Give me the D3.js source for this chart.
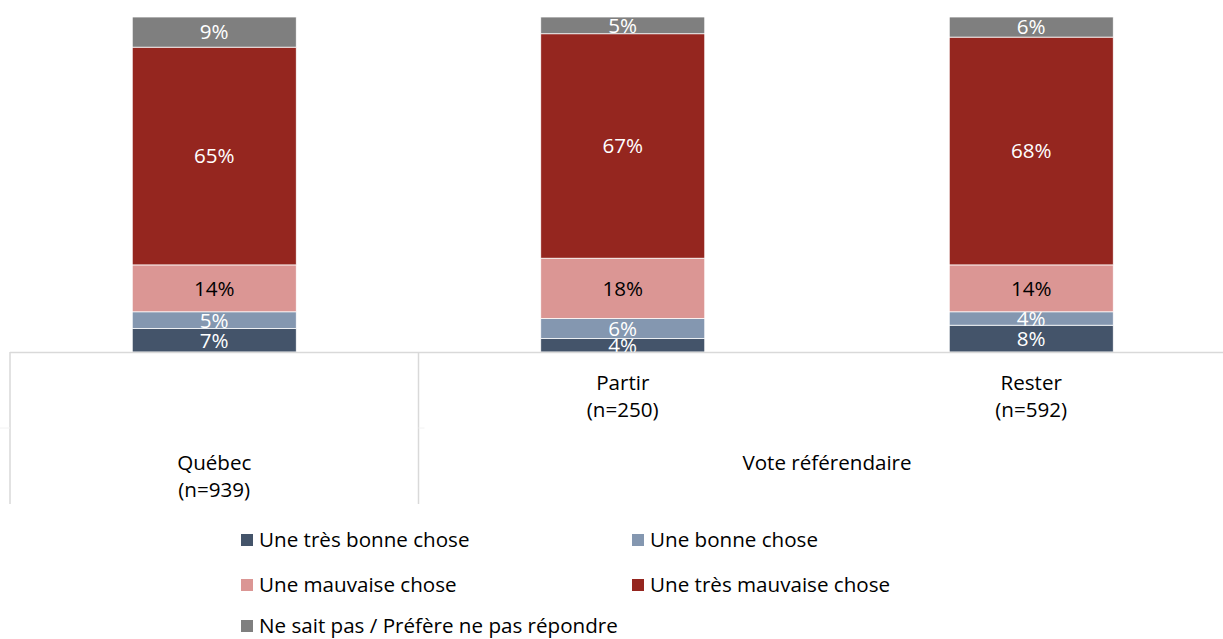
<!DOCTYPE html>
<html><head><meta charset="utf-8">
<script src="https://cdn.jsdelivr.net/npm/d3@7"></script>
<style>body{margin:0;background:#fff}svg{display:block}text{font-family:"Open Sans",Lato,sans-serif}</style>
</head><body><svg id="c" width="1223" height="639"></svg>
<script>
const categories = ["Québec", "Partir", "Rester"];
const categoryN = ["(n=939)", "(n=250)", "(n=592)"];
const groups = [{label: "", cats: ["Québec"]}, {label: "Vote référendaire", cats: ["Partir", "Rester"]}];
const seriesNames = ["Une très bonne chose", "Une bonne chose", "Une mauvaise chose", "Une très mauvaise chose", "Ne sait pas / Préfère ne pas répondre"];
const tresBonne = [7, 4, 8];
const bonne = [5, 6, 4];
const mauvaise = [14, 18, 14];
const tresMauvaise = [65, 67, 68];
const nsp = [9, 5, 6];
const colors = ["#44546A", "#8497B0", "#DB9694", "#95261F", "#7F7F7F"];
const labelColors = ["#fff", "#fff", "#000", "#fff", "#fff"];

const seriesVals = [tresBonne, bonne, mauvaise, tresMauvaise, nsp];
const data = categories.map((c, i) => {
  const o = {cat: c};
  seriesNames.forEach((s, k) => o[s] = seriesVals[k][i]);
  return o;
});
const stack = d3.stack().keys(seriesNames)(data);

const FS = 20.6;
const svg = d3.select("#c");
const x0 = 10, bandW = 408.5;
const x = d3.scaleBand().domain(categories).range([x0, x0 + bandW * 3]).paddingInner(0).paddingOuter(0);
const barW = 164;
const y = d3.scaleLinear().domain([0, 100]).range([352, 17]);

// bars
stack.forEach((layer, k) => {
  svg.append("g").selectAll("rect").data(layer).join("rect")
    .attr("x", d => x(d.data.cat) + x.bandwidth() / 2 - barW / 2)
    .attr("width", barW)
    .attr("y", d => y(d[1]))
    .attr("height", d => y(d[0]) - y(d[1]))
    .attr("fill", colors[k])
    .attr("stroke", "#fff").attr("stroke-width", 0.75);
});
stack.forEach((layer, k) => {
  svg.append("g").selectAll("text").data(layer).join("text")
    .attr("x", d => x(d.data.cat) + x.bandwidth() / 2)
    .attr("y", d => (y(d[0]) + y(d[1])) / 2)
    .attr("dy", "0.36em")
    .attr("text-anchor", "middle")
    .attr("font-size", FS)
    .attr("fill", labelColors[k])
    .text(d => (d[1] - d[0]) + "%");
});

// axis
const axisY = 352, axisBottom = 504;
svg.append("line").attr("x1", x0).attr("x2", 1223).attr("y1", axisY + 0.5).attr("y2", axisY + 0.5)
  .attr("stroke", "#D9D9D9").attr("stroke-width", 1.5);
// group separators
const seps = [x0, x(groups[1].cats[0])];
seps.forEach(sx => svg.append("line").attr("x1", sx).attr("x2", sx).attr("y1", axisY).attr("y2", axisBottom)
  .attr("stroke", "#D9D9D9").attr("stroke-width", 1.5));
// faint tick between levels
svg.append("line").attr("x1", 0).attr("x2", x0).attr("y1", 428).attr("y2", 428).attr("stroke", "#F2F2F2");
svg.append("line").attr("x1", seps[1]).attr("x2", seps[1] + 6).attr("y1", 428).attr("y2", 428).attr("stroke", "#F2F2F2");

// category labels (level 1)
categories.forEach((c, i) => {
  const cx = x(c) + x.bandwidth() / 2;
  const isTop = groups[0].cats.includes(c);
  const ty = isTop ? 463 : 383;
  const t = svg.append("text").attr("x", cx).attr("text-anchor", "middle").attr("font-size", FS).attr("fill", "#000");
  t.append("tspan").attr("x", cx).attr("y", ty).attr("dy", "0.36em").text(c);
  t.append("tspan").attr("x", cx).attr("y", ty + 27).attr("dy", "0.36em").text(categoryN[i]);
});
// group label
const g2 = groups[1];
const gx = (x(g2.cats[0]) + x(g2.cats[g2.cats.length - 1]) + x.bandwidth()) / 2;
svg.append("text").attr("x", gx).attr("y", 463).attr("dy", "0.36em").attr("text-anchor", "middle")
  .attr("font-size", FS).attr("fill", "#000").text(g2.label);

// legend
const legPos = [[241, 540], [632, 540], [241, 585], [632, 585], [241, 626]];
seriesNames.forEach((s, k) => {
  const [lx, ly] = legPos[k];
  svg.append("rect").attr("x", lx).attr("y", ly - 6).attr("width", 12).attr("height", 12).attr("fill", colors[k]);
  svg.append("text").attr("x", lx + 18).attr("y", ly).attr("dy", "0.36em").attr("font-size", FS).attr("fill", "#000").text(s);
});
</script></body></html>
